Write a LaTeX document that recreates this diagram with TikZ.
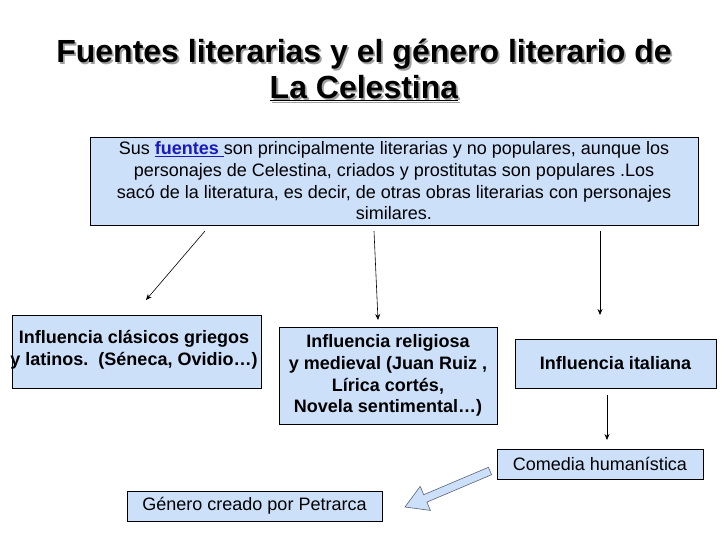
\documentclass[tikz,border=0pt]{standalone}
\usepackage{fontspec}
\setmainfont{Liberation Sans}
\usetikzlibrary{arrows.meta}
\definecolor{boxblue}{RGB}{204,224,250}
\definecolor{linkblue}{RGB}{25,25,190}
\definecolor{shadowgray}{RGB}{160,160,160}
\definecolor{arrowedge}{RGB}{90,100,120}
\newcommand{\shadowtext}[1]{\makebox[0pt][l]{\hspace{1.8pt}\raisebox{-1.8pt}{\textcolor{shadowgray}{#1}}}#1}
\begin{document}
\begin{tikzpicture}[x=1pt,y=-1pt,
  box/.style={draw=black, line width=0.8pt, fill=boxblue, inner sep=0pt},
  btext/.style={font=\fontsize{18}{21.7}\selectfont\bfseries, align=center, inner sep=0pt},
  ntext/.style={font=\fontsize{18}{21.7}\selectfont, align=center, inner sep=0pt},
  titlefont/.style={font=\fontsize{32}{33}\selectfont\bfseries, inner sep=0pt},
  conn/.style={draw=black, line width=0.6pt, -{Stealth[length=6pt,width=5pt]}},
  ]
\useasboundingbox[fill=white] (0,0) rectangle (728,546);
% title with shadow
\node[titlefont] (t1) at (364,55) {\shadowtext{Fuentes literarias y el género literario de}};
\node[titlefont] (t2) at (364,89) {\shadowtext{\underline{La Celestina}}};
% top box
\node[box, ntext, minimum width=608, minimum height=88] (top) at (394,181)
  {Sus \textcolor{linkblue}{\textbf{\underline{fuentes\ }}}son principalmente literarias y no populares, aunque los\\
   personajes de Celestina, criados y prostitutas son populares .Los\\
   sacó de la literatura, es decir, de otras obras literarias con personajes\\
   similares.};
% influence boxes
\node[box, minimum width=249, minimum height=73] (b1) at (136.5,351.5) {};
\node[btext] (b1t) at (134,350) {Influencia clásicos griegos\\y latinos.\ \ (Séneca, Ovidio…)};
\node[box, btext, minimum width=218, minimum height=97] (b2) at (388,375.5)
  {Influencia religiosa\\y medieval (Juan Ruiz ,\\Lírica cortés,\\Novela sentimental…)};
\node[box, btext, minimum width=201, minimum height=49] (b3) at (615.5,363.5) {Influencia italiana};
\node[box, ntext, minimum width=206, minimum height=30] (b4) at (600,464) {Comedia humanística};
\node[box, ntext, minimum width=255, minimum height=30] (b5) at (254.5,506) {Género creado por Petrarca};
% connectors
\coordinate (a1s) at (205,231); \coordinate (a1e) at (146,300);
\coordinate (a2s) at (374,231); \coordinate (a2e) at (378,320);
\coordinate (a3s) at (600,231); \coordinate (a3e) at (600,315);
\coordinate (a4s) at (607,395); \coordinate (a4e) at (607,440);
\draw[conn] (a1s) -- (a1e);
\draw[conn] (a2s) -- (a2e);
\draw[conn] (a3s) -- (a3e);
\draw[conn] (a4s) -- (a4e);
% block arrow
\draw[fill=boxblue, draw=arrowedge, line width=0.6pt, line join=miter]
  (488.4,467.3) -- (423.7,494.7) -- (420.2,486.4) -- (405,507) -- (430.4,510.4) -- (426.9,502.1) -- (491.6,474.7) -- cycle;
\end{tikzpicture}
\end{document}
